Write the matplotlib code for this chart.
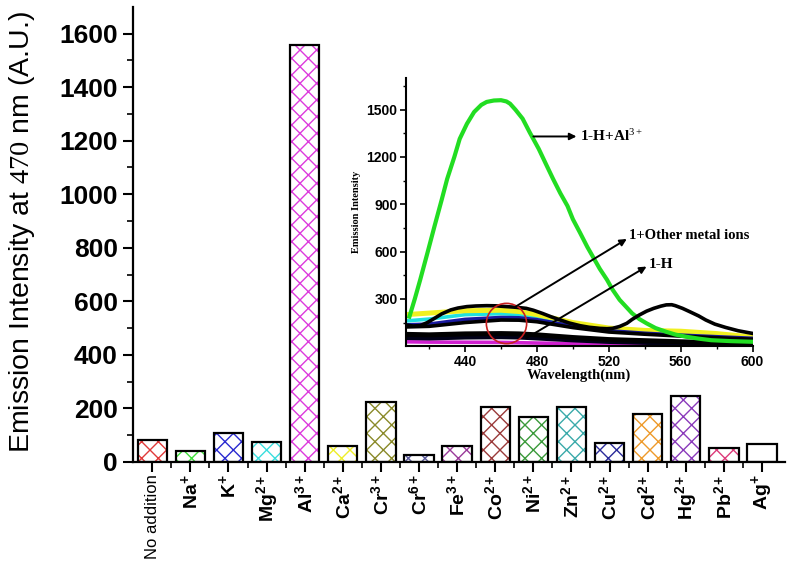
import numpy as np
import matplotlib
matplotlib.use("Agg")
import matplotlib.pyplot as plt

plt.rcParams['font.family'] = ['Liberation Sans', 'DejaVu Sans']
plt.rcParams['mathtext.fontset'] = 'custom'
plt.rcParams['mathtext.rm'] = 'Liberation Serif'
plt.rcParams['mathtext.bf'] = 'Liberation Sans:bold'
plt.rcParams['mathtext.it'] = 'Liberation Serif:italic'
plt.rcParams['hatch.linewidth'] = 1.0

# bar data (emission at 470 nm)
ions = ['No addition', r'$\mathbf{Na^{+}}$', r'$\mathbf{K^{+}}$', r'$\mathbf{Mg^{2+}}$',
        r'$\mathbf{Al^{3+}}$', r'$\mathbf{Ca^{2+}}$', r'$\mathbf{Cr^{3+}}$', r'$\mathbf{Cr^{6+}}$',
        r'$\mathbf{Fe^{3+}}$', r'$\mathbf{Co^{2+}}$', r'$\mathbf{Ni^{2+}}$', r'$\mathbf{Zn^{2+}}$',
        r'$\mathbf{Cu^{2+}}$', r'$\mathbf{Cd^{2+}}$', r'$\mathbf{Hg^{2+}}$', r'$\mathbf{Pb^{2+}}$',
        r'$\mathbf{Ag^{+}}$']
intensity = [83, 41, 108, 75, 1558, 60, 224, 26, 60, 205, 168, 205, 71, 179, 246, 52, 67]
hatch_cols = ['#e03a3a', '#3ee03a', '#2a2ad0', '#3adede', '#dd3add', '#eeee2a', '#8a8a2a',
              '#5a5a9a', '#9a3a9a', '#9a3a3a', '#3a9a3a', '#3aaaaa', '#2a2a9a', '#ee9a2a',
              '#8a3abb', '#dd3a7a', None]

# inset spectra
wl_green = [409, 412, 415, 419, 423, 427, 430, 434, 437, 441, 445, 449, 452, 456, 460, 463,
            465, 468, 472, 476, 481, 485, 489, 493, 497, 500, 504, 508, 511, 515, 519, 522,
            526, 530, 533, 537, 541, 546, 552, 557, 563, 570, 577, 588, 600]
em_green = [187, 300, 421, 590, 762, 930, 1060, 1200, 1315, 1410, 1485, 1530, 1549, 1558,
            1560, 1552, 1538, 1500, 1443, 1355, 1251, 1155, 1060, 970, 889, 805, 719, 630,
            570, 490, 421, 360, 294, 245, 208, 172, 145, 115, 91, 74, 60, 48, 38, 32, 28]
wl_peak = [407, 411, 415, 419, 423, 427, 432, 436, 441, 446, 452, 457, 463, 468, 474, 478,
           483, 488, 493, 498, 504, 509, 515, 519, 522, 526, 530, 533, 537, 541, 545, 549,
           552, 555, 557, 561, 565, 570, 574, 579, 585, 592, 600]
em_peak = [134, 128, 130, 150, 177, 205, 230, 242, 251, 255, 257, 256, 251, 247, 240, 228,
           208, 186, 166, 147, 130, 120, 113, 111, 113, 125, 145, 170, 198, 222, 240, 254,
           262, 263, 257, 240, 219, 192, 166, 140, 119, 98, 81]
wl = [407, 420, 440, 460, 470, 480, 500, 520, 540, 560, 580, 600]
em_yellow = [200, 210, 225, 228, 220, 200, 150, 115, 100, 95, 80, 58]
em_cyan = [160, 172, 200, 206, 200, 188, 140, 105, 90, 80, 68, 52]
em_navy = [135, 140, 170, 182, 180, 168, 128, 98, 82, 70, 60, 50]
em_black1 = [122, 126, 150, 166, 165, 155, 118, 90, 76, 64, 54, 44]
em_low1 = [75, 72, 78, 80, 78, 72, 55, 42, 35, 28, 22, 18]
em_low2 = [55, 52, 58, 60, 58, 52, 40, 30, 24, 18, 14, 12]
em_magenta = [28, 26, 25, 24, 22, 20, 16, 12, 10, 8, 7, 6]

fig = plt.figure(figsize=(7.88, 5.62), dpi=100)
ax = fig.add_axes([0.169, 0.178, 0.827, 0.81])

x = np.arange(len(ions))
for i in range(len(ions)):
    if hatch_cols[i] is not None:
        ax.bar(x[i], intensity[i], width=0.77, facecolor='white', edgecolor=hatch_cols[i],
               hatch='xx', linewidth=0, zorder=2)
    ax.bar(x[i], intensity[i], width=0.77, facecolor='none', edgecolor='black',
           linewidth=1.6, zorder=3)

ax.set_xlim(-0.5, 16.6)
ax.set_ylim(0, 1700)
ax.set_xticks(x)
ax.set_xticks(x[:-1] + 0.5, minor=True)
ax.set_xticklabels(ions, rotation=90, fontsize=14)
ax.get_xticklabels()[0].set_fontsize(12)
ax.set_yticks(np.arange(0, 1601, 200))
ax.set_yticks(np.arange(100, 1700, 200), minor=True)
ax.tick_params(axis='y', labelsize=19, width=1.5, length=7, pad=4)
ax.tick_params(axis='y', which='minor', width=1.2, length=4)
ax.tick_params(axis='x', width=1.5, length=7, pad=2)
ax.tick_params(axis='x', which='minor', width=1.2, length=4)
for lab in ax.get_yticklabels():
    lab.set_fontweight('bold')
ax.spines['top'].set_visible(False)
ax.spines['right'].set_visible(False)
ax.spines['left'].set_linewidth(1.6)
ax.spines['bottom'].set_linewidth(1.6)
ax.set_ylabel(r'Emission Intensity at $\mathrm{470}$ nm (A.U.)', fontsize=20.5)
ax.yaxis.set_label_coords(-0.147, 0.505)

# inset
ins = fig.add_axes([0.515, 0.384, 0.440, 0.477])
ins.patch.set_alpha(0)
lw = 2.6
ins.plot(wl, em_magenta, color='#d020d0', lw=lw)
ins.plot(wl, em_low2, color='#000018', lw=lw + 1)
ins.plot(wl, em_low1, color='#000000', lw=lw + 1)
ins.plot(wl, em_cyan, color='#20e0e0', lw=lw)
ins.plot(wl, em_yellow, color='#f0f020', lw=lw + 1)
ins.plot(wl, em_navy, color='#1a1aa0', lw=lw)
ins.plot(wl, em_black1, color='black', lw=lw)
ins.plot(wl_green, em_green, color='#22dd22', lw=3)
ins.plot(wl_peak, em_peak, color='black', lw=lw)
ins.plot([463], [150], 'o', ms=29, mfc='none', mec='#c82020', mew=1.2)

ins.set_xlim(407, 600)
ins.set_ylim(0, 1700)
ins.set_xticks([440, 480, 520, 560, 600])
ins.set_xticks([420, 460, 500, 540, 580], minor=True)
ins.set_yticks([300, 600, 900, 1200, 1500])
ins.set_yticks([150, 450, 750, 1050, 1350, 1650], minor=True)
ins.tick_params(labelsize=10, width=1.2, length=4, pad=2)
ins.tick_params(which='minor', width=1.0, length=2.5)
for lab in ins.get_xticklabels() + ins.get_yticklabels():
    lab.set_fontweight('bold')
for s in ['top', 'right']:
    ins.spines[s].set_visible(False)
for s in ['left', 'bottom']:
    ins.spines[s].set_linewidth(1.5)
ins.set_xlabel('Wavelength(nm)', family='Liberation Serif', fontweight='bold',
               fontsize=10.5, labelpad=0)
ins.set_ylabel('Emission Intensity', family='Liberation Serif', fontweight='bold',
               fontsize=7.5, labelpad=4)

arr = dict(arrowstyle='-|>', color='black', lw=1.4, mutation_scale=10,
           shrinkA=0, shrinkB=0)
ins.annotate('', xy=(502, 1330), xytext=(478, 1330), arrowprops=arr)
ins.text(504, 1330, r'1-H+Al$^{\mathrm{3+}}$', family='Liberation Serif',
         fontweight='bold', fontsize=11, va='center')
ins.annotate('', xy=(530, 680), xytext=(468, 250), arrowprops=arr)
ins.text(531, 700, '1+Other metal ions', family='Liberation Serif',
         fontweight='bold', fontsize=10.5, va='center')
ins.annotate('', xy=(541, 505), xytext=(474, 50), arrowprops=arr)
ins.text(542, 515, '1-H', family='Liberation Serif', fontweight='bold',
         fontsize=11, va='center')

fig.savefig('out.png', dpi=100)
